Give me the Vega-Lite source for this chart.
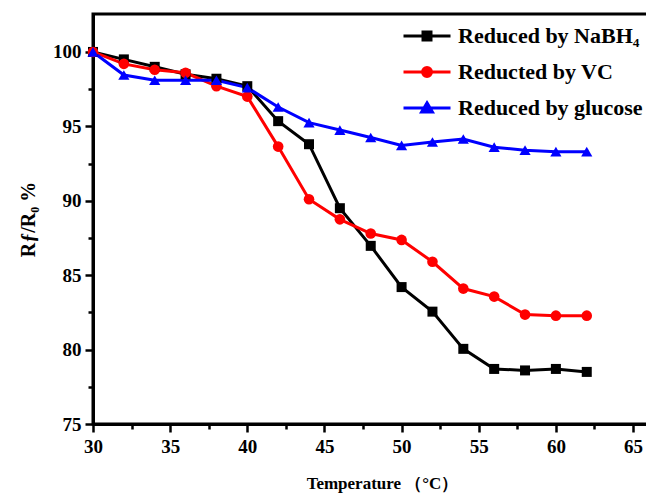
{
  "$schema": "https://vega.github.io/schema/vega-lite/v6.json",
  "width": 578,
  "height": 410,
  "autosize": "none",
  "padding": {"left": 93, "top": 14, "right": 0, "bottom": 73},
  "background": "white",
  "config": {
    "view": {"stroke": "black", "strokeWidth": 3},
    "font": "Liberation Serif",
    "axis": {
      "grid": false,
      "domainColor": "black",
      "domainWidth": 3,
      "tickColor": "black",
      "tickWidth": 2.5,
      "labelFont": "Liberation Serif",
      "labelFontWeight": "bold",
      "labelFontSize": 19,
      "labelColor": "black",
      "titleFont": "Liberation Serif",
      "titleFontWeight": "bold",
      "titleFontSize": 17,
      "titleColor": "black"
    }
  },
  "data": {
    "values": [
      {"series": "Reduced by NaBH₄", "temp": 30, "ratio": 100},
      {"series": "Reduced by NaBH₄", "temp": 32, "ratio": 99.5},
      {"series": "Reduced by NaBH₄", "temp": 34, "ratio": 99.0},
      {"series": "Reduced by NaBH₄", "temp": 36, "ratio": 98.5},
      {"series": "Reduced by NaBH₄", "temp": 38, "ratio": 98.2},
      {"series": "Reduced by NaBH₄", "temp": 40, "ratio": 97.7},
      {"series": "Reduced by NaBH₄", "temp": 42, "ratio": 95.35},
      {"series": "Reduced by NaBH₄", "temp": 44, "ratio": 93.8},
      {"series": "Reduced by NaBH₄", "temp": 46, "ratio": 89.5},
      {"series": "Reduced by NaBH₄", "temp": 48, "ratio": 86.97},
      {"series": "Reduced by NaBH₄", "temp": 50, "ratio": 84.2},
      {"series": "Reduced by NaBH₄", "temp": 52, "ratio": 82.55},
      {"series": "Reduced by NaBH₄", "temp": 54, "ratio": 80.05},
      {"series": "Reduced by NaBH₄", "temp": 56, "ratio": 78.7},
      {"series": "Reduced by NaBH₄", "temp": 58, "ratio": 78.6},
      {"series": "Reduced by NaBH₄", "temp": 60, "ratio": 78.7},
      {"series": "Reduced by NaBH₄", "temp": 62, "ratio": 78.5},
      {"series": "Reducted by VC", "temp": 30, "ratio": 100},
      {"series": "Reducted by VC", "temp": 32, "ratio": 99.2},
      {"series": "Reducted by VC", "temp": 34, "ratio": 98.8},
      {"series": "Reducted by VC", "temp": 36, "ratio": 98.6},
      {"series": "Reducted by VC", "temp": 38, "ratio": 97.7},
      {"series": "Reducted by VC", "temp": 40, "ratio": 97.0},
      {"series": "Reducted by VC", "temp": 42, "ratio": 93.64},
      {"series": "Reducted by VC", "temp": 44, "ratio": 90.1},
      {"series": "Reducted by VC", "temp": 46, "ratio": 88.75},
      {"series": "Reducted by VC", "temp": 48, "ratio": 87.8},
      {"series": "Reducted by VC", "temp": 50, "ratio": 87.37},
      {"series": "Reducted by VC", "temp": 52, "ratio": 85.9},
      {"series": "Reducted by VC", "temp": 54, "ratio": 84.1},
      {"series": "Reducted by VC", "temp": 56, "ratio": 83.56},
      {"series": "Reducted by VC", "temp": 58, "ratio": 82.35},
      {"series": "Reducted by VC", "temp": 60, "ratio": 82.28},
      {"series": "Reducted by VC", "temp": 62, "ratio": 82.28},
      {"series": "Reduced by glucose", "temp": 30, "ratio": 100},
      {"series": "Reduced by glucose", "temp": 32, "ratio": 98.45},
      {"series": "Reduced by glucose", "temp": 34, "ratio": 98.1},
      {"series": "Reduced by glucose", "temp": 36, "ratio": 98.1},
      {"series": "Reduced by glucose", "temp": 38, "ratio": 98.1},
      {"series": "Reduced by glucose", "temp": 40, "ratio": 97.6},
      {"series": "Reduced by glucose", "temp": 42, "ratio": 96.3},
      {"series": "Reduced by glucose", "temp": 44, "ratio": 95.25},
      {"series": "Reduced by glucose", "temp": 46, "ratio": 94.75},
      {"series": "Reduced by glucose", "temp": 48, "ratio": 94.25},
      {"series": "Reduced by glucose", "temp": 50, "ratio": 93.72},
      {"series": "Reduced by glucose", "temp": 52, "ratio": 93.95},
      {"series": "Reduced by glucose", "temp": 54, "ratio": 94.15},
      {"series": "Reduced by glucose", "temp": 56, "ratio": 93.6},
      {"series": "Reduced by glucose", "temp": 58, "ratio": 93.4},
      {"series": "Reduced by glucose", "temp": 60, "ratio": 93.3},
      {"series": "Reduced by glucose", "temp": 62, "ratio": 93.3}
    ]
  },
  "encoding": {
    "x": {
      "field": "temp",
      "type": "quantitative",
      "scale": {"domain": [30, 67.46], "nice": false, "zero": false},
      "axis": {
        "values": [30, 32.5, 35, 37.5, 40, 42.5, 45, 47.5, 50, 52.5, 55, 57.5, 60, 62.5, 65],
        "labelExpr": "datum.value % 5 === 0 ? datum.label : ''",
        "tickSize": {"condition": {"test": "datum.value % 5 === 0", "value": 8}, "value": 5},
        "labelPadding": 5,
        "labelFlush": false,
        "labelOverlap": false,
        "title": "Temperature （°C）",
        "titlePadding": 19
      }
    },
    "y": {
      "field": "ratio",
      "type": "quantitative",
      "scale": {"domain": [75, 102.55], "nice": false, "zero": false},
      "axis": {
        "values": [75, 77.5, 80, 82.5, 85, 87.5, 90, 92.5, 95, 97.5, 100],
        "labelExpr": "datum.value % 5 === 0 ? datum.label : ''",
        "tickSize": {"condition": {"test": "datum.value % 5 === 0", "value": 8}, "value": 5},
        "labelPadding": 4,
        "labelFlush": false,
        "labelOverlap": false,
        "title": "Rƒ/R₀ %",
        "titleFontSize": 20,
        "titlePadding": 14
      }
    }
  },
  "layer": [
    {
      "mark": {"type": "line", "strokeWidth": 3},
      "encoding": {
        "color": {
          "field": "series",
          "type": "nominal",
          "scale": {
            "domain": ["Reduced by NaBH₄", "Reducted by VC", "Reduced by glucose"],
            "range": ["#000000", "#ff0000", "#0000ff"]
          },
          "legend": null
        }
      }
    },
    {
      "mark": {"type": "point", "filled": true, "opacity": 1},
      "encoding": {
        "color": {
          "field": "series",
          "type": "nominal",
          "scale": {
            "domain": ["Reduced by NaBH₄", "Reducted by VC", "Reduced by glucose"],
            "range": ["#000000", "#ff0000", "#0000ff"]
          },
          "legend": null
        },
        "shape": {
          "field": "series",
          "type": "nominal",
          "scale": {
            "domain": ["Reduced by NaBH₄", "Reducted by VC", "Reduced by glucose"],
            "range": ["square", "circle", "triangle-up"]
          },
          "legend": null
        },
        "size": {
          "field": "series",
          "type": "nominal",
          "scale": {
            "domain": ["Reduced by NaBH₄", "Reducted by VC", "Reduced by glucose"],
            "range": [100, 125, 140]
          },
          "legend": null
        }
      }
    },
    {
      "transform": [{"filter": "false"}],
      "mark": {"type": "point", "filled": false, "opacity": 1, "size": 2209, "strokeWidth": 3},
      "encoding": {
        "color": {
          "field": "series",
          "type": "nominal",
          "scale": {
            "domain": ["Reduced by NaBH₄", "Reducted by VC", "Reduced by glucose"],
            "range": ["#000000", "#ff0000", "#0000ff"]
          },
          "legend": {
            "title": null,
            "orient": "none",
            "legendX": 309,
            "legendY": -3,
            "padding": 0,
            "labelFont": "Liberation Serif",
            "labelFontWeight": "bold",
            "labelFontSize": 22,
            "labelColor": "black",
            "labelOffset": 6,
            "labelLimit": 400,
            "rowPadding": -4.5,
            "symbolSize": 2209,
            "symbolStrokeWidth": 3,
            "symbolOpacity": 1
          }
        },
        "shape": {
          "field": "series",
          "type": "nominal",
          "scale": {
            "domain": ["Reduced by NaBH₄", "Reducted by VC", "Reduced by glucose"],
            "range": [
              "M-1,0H1M-0.17,-0.17H0.17V0.17H-0.17ZM-0.07,-0.07H0.07V0.07H-0.07Z",
              "M-1,0H1M-0.19,0A0.19,0.19,0,1,0,0.19,0A0.19,0.19,0,1,0,-0.19,0ZM-0.08,0A0.08,0.08,0,1,0,0.08,0A0.08,0.08,0,1,0,-0.08,0Z",
              "M-1,0H1M0,-0.22L0.23,0.17L-0.23,0.17ZM0,-0.06L0.09,0.1L-0.09,0.1Z"
            ]
          },
          "legend": null
        }
      }
    }
  ],
  "resolve": {"scale": {"color": "independent", "shape": "independent", "size": "independent"}}
}
